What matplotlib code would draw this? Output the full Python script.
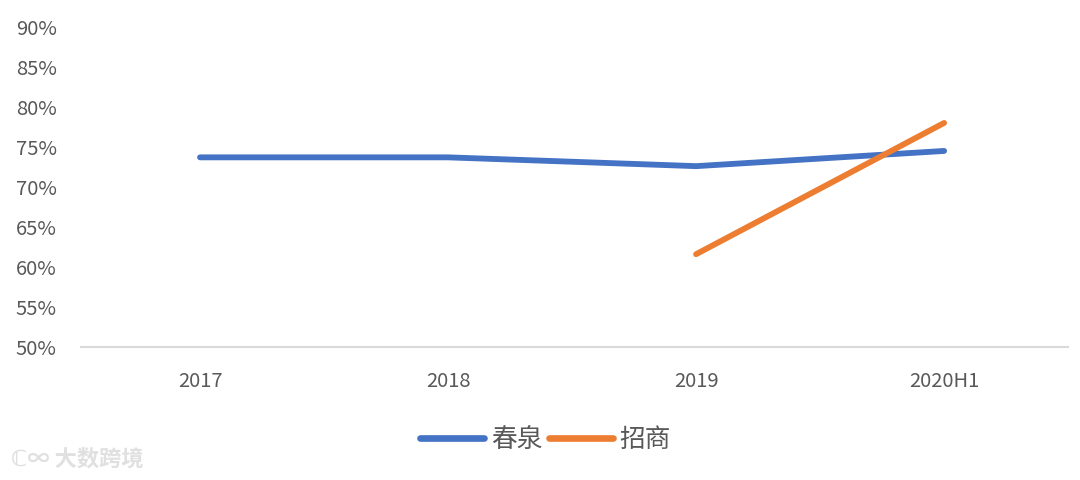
import matplotlib
matplotlib.use("Agg")
import matplotlib.pyplot as plt
import numpy as np

plt.rcParams['font.family'] = ['Noto Sans CJK SC', 'DejaVu Sans']

# data
periods = ['2017', '2018', '2019', '2020H1']
chunquan = [73.7, 73.7, 72.6, 74.5]
zhaoshang = [np.nan, np.nan, 61.6, 78.0]
y_ticks = [50, 55, 60, 65, 70, 75, 80, 85, 90]

blue = '#4472C4'
orange = '#ED7D31'
grey = '#595959'

fig = plt.figure(figsize=(10.8, 4.8), dpi=100)
ax = fig.add_axes([0.0704, 0.277, 0.9186, 0.667])

x = np.arange(len(periods))
ax.plot(x, chunquan, color=blue, lw=4.2, solid_capstyle='round', label='春泉')
ax.plot(x, zhaoshang, color=orange, lw=4.2, solid_capstyle='round', label='招商')

ax.set_xlim(-0.5, len(periods) - 0.5)
ax.set_ylim(50, 90)
ax.set_xticks(x)
ax.set_xticklabels(periods)
ax.set_yticks(y_ticks)
ax.set_yticklabels([f'{v}%' for v in y_ticks])
ax.tick_params(axis='both', length=0, labelsize=14.5, labelcolor=grey)
ax.tick_params(axis='x', pad=17)
ax.tick_params(axis='y', pad=14)
for t in ax.get_xticklabels() + ax.get_yticklabels():
    t.set_fontweight('light')

for s in ['top', 'right', 'left']:
    ax.spines[s].set_visible(False)
ax.spines['bottom'].set_color('#D9D9D9')
ax.spines['bottom'].set_linewidth(1.5)
ax.spines['bottom'].set_bounds(-0.48, 3.5)

leg = fig.legend(loc='center', bbox_to_anchor=(0.505, 0.083), ncol=2, frameon=False,
                 fontsize=18.5, handlelength=2.5, handletextpad=0.25, columnspacing=0.25)
for line in leg.get_lines():
    line.set_linewidth(4.8)
for t in leg.get_texts():
    t.set_color(grey)

# watermark
fig.text(0.010, 0.043, 'ℂ∞ 大数跨境', fontsize=16, color='#E0E0E0', fontweight='bold',
         va='center', ha='left')

fig.savefig('out.png', dpi=100)
